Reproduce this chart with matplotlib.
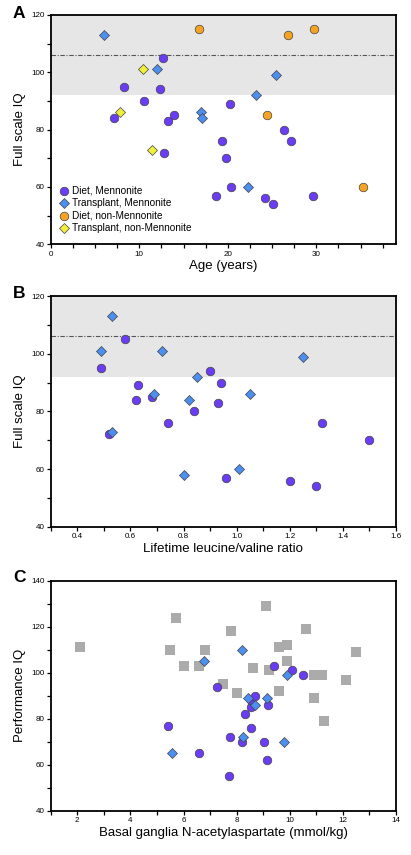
import matplotlib
matplotlib.use("Agg")
import matplotlib.pyplot as plt
from matplotlib.ticker import MultipleLocator

plt.rcParams['font.family'] = ['Liberation Sans', 'DejaVu Sans']

# ---------------- Panel A data: age vs full scale IQ ----------------
a_diet_men_x = [7.1, 8.3, 10.5, 12.7, 12.4, 13.3, 13.9, 12.8, 20.2, 19.3, 19.8, 18.7, 20.4, 24.2, 25.1, 26.3, 27.1, 29.6]
a_diet_men_y = [84, 95, 90, 105, 94, 83, 85, 72, 89, 76, 70, 57, 60, 56, 54, 80, 76, 57]
a_tx_men_x = [6.0, 12.0, 17.0, 17.1, 23.2, 25.4, 22.3]
a_tx_men_y = [113, 101, 86, 84, 92, 99, 60]
a_diet_non_x = [16.8, 26.8, 29.7, 24.4, 35.3]
a_diet_non_y = [115, 113, 115, 85, 60]
a_tx_non_x = [10.4, 7.8, 11.4]
a_tx_non_y = [101, 86, 73]

# ---------------- Panel B data: leucine/valine ratio vs full scale IQ ----------------
b_diet_men_x = [0.49, 0.58, 0.63, 0.62, 0.68, 0.52, 0.74, 0.84, 0.90, 0.94, 0.93, 0.96, 1.20, 1.30, 1.32, 1.50]
b_diet_men_y = [95, 105, 89, 84, 85, 72, 76, 80, 94, 90, 83, 57, 56, 54, 76, 70]
b_tx_men_x = [0.53, 0.49, 0.72, 0.53, 0.69, 0.82, 0.85, 0.80, 1.01, 1.05, 1.25]
b_tx_men_y = [113, 101, 101, 73, 86, 84, 92, 58, 60, 86, 99]

# ---------------- Panel C data: basal ganglia NAA vs performance IQ ----------------
c_ctrl_x = [2.1, 5.7, 5.5, 6.0, 6.6, 6.8, 7.5, 7.8, 8.0, 9.1, 8.6, 9.2, 9.6, 9.9, 9.9, 9.6, 10.6, 10.9, 11.2, 10.9, 11.3, 12.1, 12.5]
c_ctrl_y = [111, 124, 110, 103, 103, 110, 95, 118, 91, 129, 102, 101, 111, 112, 105, 92, 119, 99, 99, 89, 79, 97, 109]
c_diet_men_x = [5.4, 6.6, 7.25, 7.76, 7.72, 8.19, 8.33, 8.53, 8.55, 8.71, 8.53, 9.02, 9.18, 9.14, 9.42, 10.1, 10.48]
c_diet_men_y = [77, 65, 94, 72, 55, 70, 82, 85, 88, 90, 76, 70, 86, 62, 103, 101, 99]
c_tx_men_x = [5.56, 6.77, 8.19, 8.42, 8.71, 8.24, 9.14, 9.78, 9.9]
c_tx_men_y = [65, 105, 110, 89, 86, 72, 89, 70, 99]

PURPLE = "#6a3cf4"
BLUE = "#4b8ff0"
ORANGE = "#f6a322"
YELLOW = "#f0f03c"
GRAY = "#ababab"
BAND = "#e6e6e6"
EDGE = "#444444"

fig = plt.figure(figsize=(4.11, 8.55), dpi=100)

L, W = 0.1234, 0.8401
axA = fig.add_axes([L, 0.7143, W, 0.9825 - 0.7143])
axB = fig.add_axes([L, 0.3840, W, 0.6538 - 0.3840])
axC = fig.add_axes([L, 0.0518, W, 0.3208 - 0.0518])

S_C = 38
S_D = 26
kw = dict(edgecolors=EDGE, linewidths=0.5, zorder=3)


def style(ax):
    for sp in ax.spines.values():
        sp.set_linewidth(1.3)
    ax.tick_params(which='both', direction='out', labelsize=5.8, width=0.9, pad=1.5)
    ax.tick_params(which='major', length=3)
    ax.tick_params(which='minor', length=3)


# Panel A
axA.axhspan(92, 120, color=BAND, zorder=0, lw=0)
axA.axhline(106, color="#555555", lw=0.8, ls=(0, (4, 1.5, 1, 1.5)), zorder=1)
axA.scatter(a_diet_men_x, a_diet_men_y, s=S_C, marker='o', c=PURPLE, label="Diet, Mennonite", **kw)
axA.scatter(a_tx_men_x, a_tx_men_y, s=S_D, marker='D', c=BLUE, label="Transplant, Mennonite", **kw)
axA.scatter(a_diet_non_x, a_diet_non_y, s=S_C, marker='o', c=ORANGE, label="Diet, non-Mennonite", **kw)
axA.scatter(a_tx_non_x, a_tx_non_y, s=S_D, marker='D', c=YELLOW, label="Transplant, non-Mennonite", **kw)
axA.set_xlim(0, 39)
axA.set_ylim(40, 120)
axA.xaxis.set_major_locator(MultipleLocator(10))
axA.xaxis.set_minor_locator(MultipleLocator(2.5))
axA.yaxis.set_major_locator(MultipleLocator(20))
axA.yaxis.set_minor_locator(MultipleLocator(10))
axA.set_xlabel("Age (years)", fontsize=9.5, labelpad=2)
axA.set_ylabel("Full scale IQ", fontsize=9.5, labelpad=4)
style(axA)
axA.legend(loc='lower left', bbox_to_anchor=(0.0, 0.02), frameon=False, fontsize=7.2,
           handletextpad=0.2, labelspacing=0.25, borderaxespad=0.3, handlelength=1.2)

# Panel B
axB.axhspan(92, 120, color=BAND, zorder=0, lw=0)
axB.axhline(106, color="#555555", lw=0.8, ls=(0, (4, 1.5, 1, 1.5)), zorder=1)
axB.scatter(b_diet_men_x, b_diet_men_y, s=S_C, marker='o', c=PURPLE, **kw)
axB.scatter(b_tx_men_x, b_tx_men_y, s=S_D, marker='D', c=BLUE, **kw)
axB.set_xlim(0.3, 1.6)
axB.set_ylim(40, 120)
axB.xaxis.set_major_locator(MultipleLocator(0.2))
axB.xaxis.set_minor_locator(MultipleLocator(0.1))
axB.yaxis.set_major_locator(MultipleLocator(20))
axB.yaxis.set_minor_locator(MultipleLocator(10))
axB.set_xlabel("Lifetime leucine/valine ratio", fontsize=9.5, labelpad=2)
axB.set_ylabel("Full scale IQ", fontsize=9.5, labelpad=4)
style(axB)

# Panel C
axC.scatter(c_ctrl_x, c_ctrl_y, s=44, marker='s', c=GRAY, linewidths=0, zorder=2)
axC.scatter(c_diet_men_x, c_diet_men_y, s=S_C, marker='o', c=PURPLE, **kw)
axC.scatter(c_tx_men_x, c_tx_men_y, s=S_D, marker='D', c=BLUE, **kw)
axC.set_xlim(1, 14)
axC.set_ylim(40, 140)
axC.xaxis.set_major_locator(MultipleLocator(2))
axC.xaxis.set_minor_locator(MultipleLocator(1))
axC.yaxis.set_major_locator(MultipleLocator(20))
axC.yaxis.set_minor_locator(MultipleLocator(10))
axC.set_xlabel("Basal ganglia N-acetylaspartate (mmol/kg)", fontsize=9.5, labelpad=2)
axC.set_ylabel("Performance IQ", fontsize=9.5, labelpad=4)
style(axC)

for lab, yy in [("A", 13), ("B", 293), ("C", 577)]:
    fig.text(13 / 411, 1 - yy / 855, lab, fontsize=12.5, fontweight='bold', ha='left', va='center')

fig.savefig("out.png", dpi=100)
